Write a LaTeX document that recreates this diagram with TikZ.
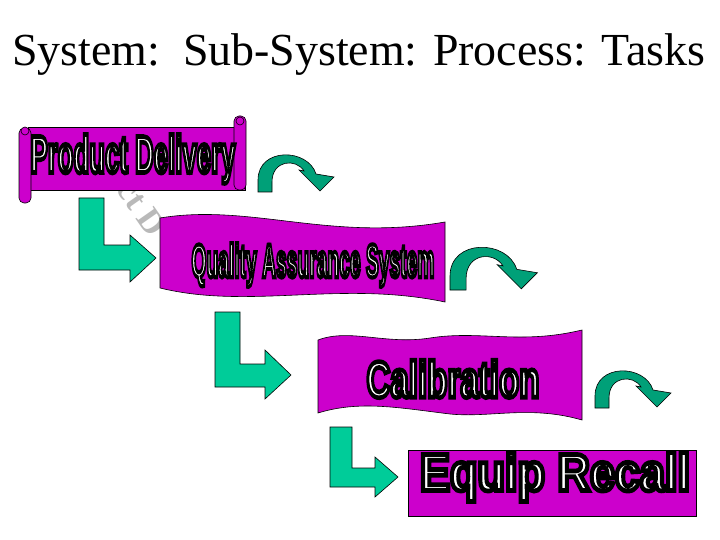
\documentclass[tikz,border=0pt]{standalone}
\usepackage{fontspec}
\setmainfont{Liberation Serif}
\newfontfamily\arialf{Liberation Sans}
\definecolor{mag}{HTML}{CC00CC}
\definecolor{grn}{HTML}{00CC99}
\definecolor{dgrn}{HTML}{00A078}
\newcommand{\otext}[3]{\resizebox{#1pt}{#2pt}{\textcolor{white}{\special{pdf:literal 2 Tr 0.9 w 0 G}\arialf\bfseries #3\special{pdf:literal 0 Tr}}}}
\newcommand{\curvarr}{%
  (0,0) -- (0,-12) .. controls (0,-45) and (50,-44) .. (58,-18) -- (76,-15) -- (62,-1) -- (41,-22)
  -- (46,-21) .. controls (38,-34) and (14,-32) .. (14,-10) -- (14,0) -- cycle}
\begin{document}
\begin{tikzpicture}[x=1pt,y=-1pt,
  shp/.style={fill=mag,draw=black,line width=0.6pt},
  garr/.style={fill=grn,draw=black,line width=0.6pt},
  carr/.style={fill=dgrn,draw=black,line width=0.6pt},
  lbl/.style={inner sep=0pt}]
\useasboundingbox[fill=white] (0,0) rectangle (720,540);
\node[lbl,anchor=base west] (title) at (12,66) {\resizebox{693pt}{!}{\fontsize{36}{40}\selectfont System:\ \ Sub-System: Process: Tasks}};
% ghost text
\node[lbl,text=gray!55,rotate=-55,font=\bfseries\fontsize{34}{34}\selectfont] (ghost) at (142,208) {ct D};
% banner 1 (scroll)
\draw[shp] (28,127) rectangle (245,190);
\draw[shp,rounded corners=5pt] (19,128) rectangle (31,203);
\draw[shp] (25,131) circle (4);
\draw[shp,rounded corners=5pt] (234,116) rectangle (246,190);
\draw[shp] (240,121) circle (4);
\node[lbl] (t1) at (133,159) {\otext{205}{38}{Product Delivery}};
% L arrow 1
\draw[garr] (79,198) -- (104,198) -- (104,245) -- (130,245) -- (130,235) -- (156,258) -- (130,282) -- (130,270) -- (79,270) -- cycle;
% curved arrow 1
\begin{scope}[shift={(258,192)}]\draw[carr] \curvarr;\end{scope}
% banner 2
\draw[shp] (160,218) .. controls (250,203) and (330,242) .. (445,222) -- (445,302) .. controls (340,280) and (250,310) .. (160,288) -- cycle;
\node[lbl] (t2) at (313,265) {\otext{243}{34}{Quality Assurance System}};
% curved arrow 2
\begin{scope}[shift={(450,290)},scale=1.15]\draw[carr] \curvarr;\end{scope}
% L arrow 2
\draw[garr] (215,312) -- (240,312) -- (240,364) -- (265,364) -- (265,350) -- (291,375) -- (265,399) -- (265,387) -- (215,387) -- cycle;
% banner 3
\draw[shp] (318,340) .. controls (350,328) and (385,345) .. (430,338) .. controls (480,330) and (520,345) .. (582,330)
  -- (582,420) .. controls (530,405) and (490,418) .. (450,414) .. controls (400,408) and (360,400) .. (318,413) -- cycle;
\node[lbl] (t3) at (453,379) {\otext{173}{37}{Calibration}};
% curved arrow 3
\begin{scope}[shift={(595,408)},scale=1.0]\draw[carr] \curvarr;\end{scope}
% L arrow 3
\draw[garr] (330,427) -- (352,427) -- (352,468) -- (375,468) -- (375,457) -- (398,477) -- (375,497) -- (375,487) -- (330,487) -- cycle;
% box 4
\draw[shp] (408,450) rectangle (696,516);
\node[lbl] (t4) at (555,477) {\otext{270}{38}{Equip Recall}};
\end{tikzpicture}
\end{document}
